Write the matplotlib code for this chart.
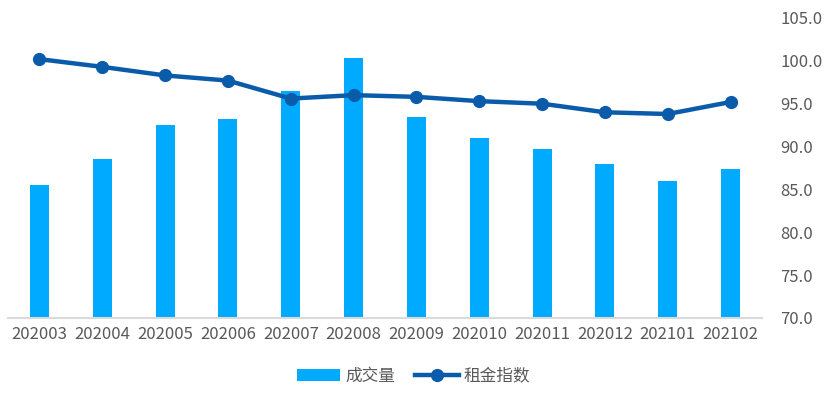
import matplotlib
matplotlib.use("Agg")
import matplotlib.pyplot as plt
import numpy as np

plt.rcParams['font.family'] = ['Noto Sans CJK SC', 'DejaVu Sans']

months = ["202003", "202004", "202005", "202006", "202007", "202008",
          "202009", "202010", "202011", "202012", "202101", "202102"]
volume = [133, 159, 193, 199, 227, 260, 201, 180, 169, 154, 137, 149]
rent_index = [100.2, 99.3, 98.3, 97.7, 95.6, 96.0, 95.8, 95.3, 95.0, 94.0, 93.8, 95.2]
right_ticks = [70, 75, 80, 85, 90, 95, 100, 105]

bar_color = "#00AAFF"
line_color = "#0A5BAA"
text_color = "#595959"

fig = plt.figure(figsize=(8.27, 3.96), dpi=100)
ax = fig.add_axes([8/827, 1-318/396, 754/827, 300/396])
x = np.arange(len(months))
b = ax.bar(x, volume, width=0.30, color=bar_color, label="成交量", zorder=2)
ax.set_ylim(0, 300)
ax.set_xlim(-0.5, len(months)-0.5)
ax.set_yticks([])
for s in ["top", "right", "left"]:
    ax.spines[s].set_visible(False)
ax.spines["bottom"].set_color("#D9D9D9")
ax.spines["bottom"].set_linewidth(1.5)
ax.set_xticks(x)
ax.set_xticklabels(months, color=text_color, fontsize=12)
ax.tick_params(axis='x', length=0, pad=6)

ax2 = ax.twinx()
l, = ax2.plot(x, rent_index, color=line_color, lw=3.2, marker='o', markersize=8.5,
              label="租金指数", zorder=3)
ax2.set_ylim(70, 105)
ax2.set_yticks(right_ticks)
ax2.set_yticklabels([f"{v:.1f}" for v in right_ticks], color=text_color, fontsize=12)
ax2.tick_params(axis='y', length=0, pad=13)
for s in ["top", "right", "left", "bottom"]:
    ax2.spines[s].set_visible(False)

fig.legend([b, l], ["成交量", "租金指数"], loc="center", bbox_to_anchor=(0.5, 1-376/396),
           ncol=2, frameon=False, fontsize=12, handlelength=2.6, handletextpad=0.3,
           columnspacing=1.2, labelcolor=text_color)

fig.savefig("out.png", dpi=100)
